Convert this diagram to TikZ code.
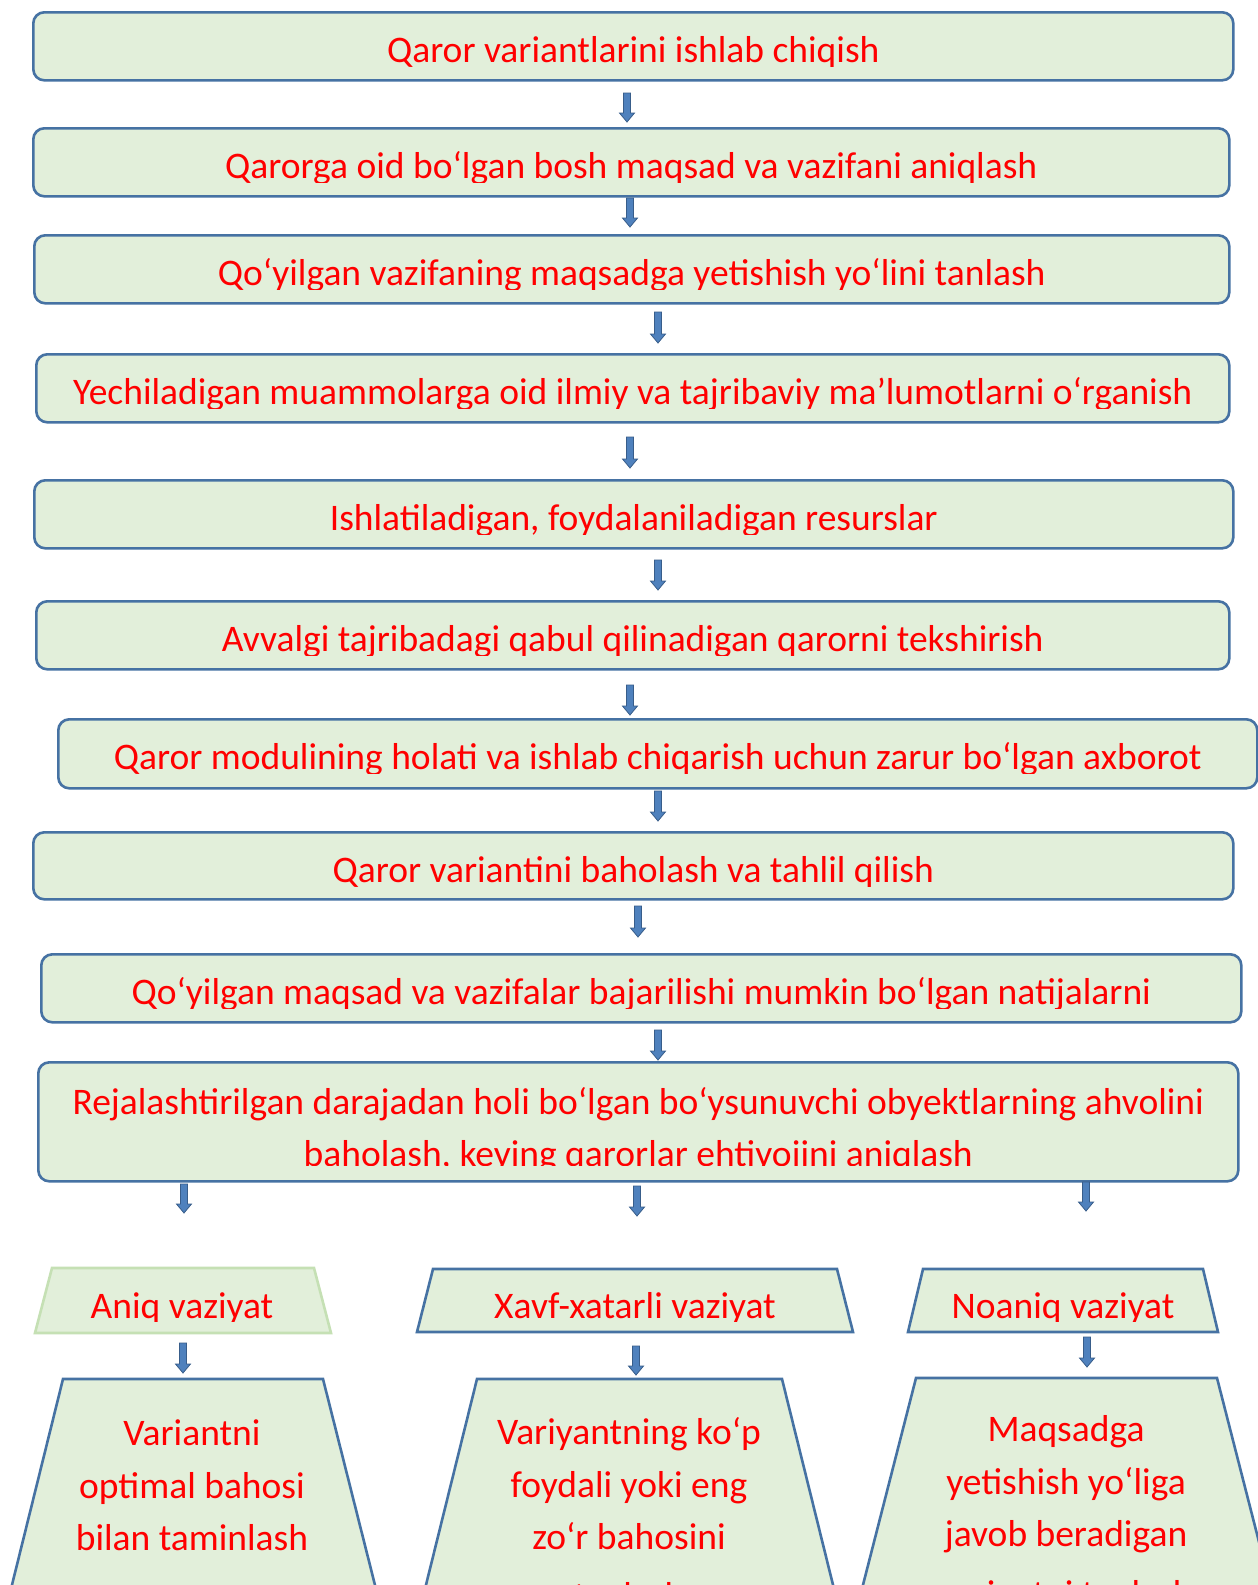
\documentclass[tikz,border=0pt]{standalone}
\usepackage{fontspec}
\setmainfont{Carlito}
\usetikzlibrary{calc}
\definecolor{boxfill}{RGB}{226,239,218}
\definecolor{boxline}{RGB}{70,114,163}
\definecolor{lightline}{RGB}{197,224,180}
\definecolor{txtred}{RGB}{255,0,0}
\definecolor{arrfill}{RGB}{79,129,189}
\definecolor{arrline}{RGB}{56,93,138}
\tikzset{
 boxsty/.style={draw=boxline, fill=boxfill, line width=2.6pt, rounded corners=11pt, inner sep=0pt},
 txt/.style={text=txtred, font=\fontsize{37.5}{45}\selectfont, inner sep=0pt},
 arrsty/.style={fill=arrfill, draw=arrline, line width=0.8pt, line join=miter},
 trapsty/.style={draw=boxline, fill=boxfill, line width=2.6pt, line join=miter},
}
% name, x1, y1, x2, y2, text
\newcommand\flowbox[6]{%
  \node[boxsty, minimum width=#4-#2, minimum height=#5-#3, anchor=north west] (#1) at (#2,#3) {};
  \begin{scope}
    \clip (#2,#3) rectangle (#4,#3+55.5);
    \node[txt, anchor=base] (#1t) at ($(#1.north)+(0,51)$) {#6};
  \end{scope}}
% name, x, ytop, ybottom
\newcommand\blockarrow[4]{%
  \coordinate (#1s) at (#2,#3);
  \coordinate (#1e) at (#2,#4);
  \filldraw[arrsty] ($(#1s)+(-3.5,0)$) -- ($(#1s)+(3.5,0)$) -- ($(#1e)+(3.5,-9)$) -- ($(#1e)+(7.5,-9)$) -- (#1e) -- ($(#1e)+(-7.5,-9)$) -- ($(#1e)+(-3.5,-9)$) -- cycle;}
\begin{document}
\begin{tikzpicture}[x=1pt,y=-1pt]
\useasboundingbox (0,0) rectangle (1258,1585);
\clip (0,0) rectangle (1258,1585);
\fill[white] (0,0) rectangle (1258,1585);

\flowbox{b1}{32}{11}{1232}{79}{Qaror variantlarini ishlab chiqish}
\flowbox{b2}{32}{127}{1228}{195}{Qarorga oid bo‘lgan bosh maqsad va vazifani aniqlash}
\flowbox{b3}{33}{234}{1228}{302}{Qo‘yilgan vazifaning maqsadga yetishish yo‘lini tanlash}
\flowbox{b4}{35}{353}{1228}{421}{Yechiladigan muammolarga oid ilmiy va tajribaviy ma’lumotlarni o‘rganish}
\flowbox{b5}{33}{479}{1232}{547}{Ishlatiladigan, foydalaniladigan resurslar}
\flowbox{b6}{35}{600}{1228}{668}{Avvalgi tajribadagi qabul qilinadigan qarorni tekshirish}
\flowbox{b7}{57}{718}{1256}{787}{Qaror modulining holati va ishlab chiqarish uchun zarur bo‘lgan axborot}
\flowbox{b8}{32}{831}{1232}{898}{Qaror variantini baholash va tahlil qilish}
\flowbox{b9}{40}{953}{1240}{1021}{Qo‘yilgan maqsad va vazifalar bajarilishi mumkin bo‘lgan natijalarni}

% two-line box
\node[boxsty, minimum width=1200, minimum height=119, anchor=north west] (b10) at (37,1061) {};
\begin{scope}
  \clip (37,1061) rectangle (1237,1165);
  \node[txt, anchor=base] (b10t1) at ($(b10.north)+(0,53)$) {Rejalashtirilgan darajadan holi bo‘lgan bo‘ysunuvchi obyektlarning ahvolini};
  \node[txt, anchor=base] (b10t2) at ($(b10.north)+(0,105.5)$) {baholash, keying qarorlar ehtiyojini aniqlash};
\end{scope}

% small trapezoids
\path[trapsty, draw=lightline] (52,1268) -- (314,1268) -- (331,1333) -- (35,1333) -- cycle;
\path[trapsty] (433,1269) -- (837,1269) -- (853,1332) -- (417,1332) -- cycle;
\path[trapsty] (923,1269) -- (1203,1269) -- (1218,1332) -- (908,1332) -- cycle;
\begin{scope}
  \clip (0,1250) rectangle (1258,1321);
  \node[txt, anchor=base] (s1) at (182,1318) {Aniq vaziyat};
  \node[txt, anchor=base] (s2) at (635,1318) {Xavf-xatarli vaziyat};
  \node[txt, anchor=base] (s3) at (1063,1318) {Noaniq vaziyat};
\end{scope}

% big trapezoids
\path[trapsty] (63,1379) -- (323,1379) -- (383.8,1620) -- (3.3,1620) -- cycle;
\path[trapsty] (477,1379) -- (782,1379) -- (841.7,1620) -- (417.3,1620) -- cycle;
\path[trapsty] (916,1378) -- (1217,1378) -- (1279,1620) -- (854,1620) -- cycle;

\node[txt, anchor=base] (l1a) at (192,1445.5) {Variantni};
\node[txt, anchor=base] (l1b) at (192,1498.5) {optimal bahosi};
\node[txt, anchor=base] (l1c) at (192,1550.5) {bilan taminlash};

\node[txt, anchor=base] (l2a) at (629,1444.5) {Variyantning ko‘p};
\node[txt, anchor=base] (l2b) at (629,1497.5) {foydali yoki eng};
\node[txt, anchor=base] (l2c) at (629,1549.5) {zo‘r bahosini};
\node[txt, anchor=base] (l2d) at (629,1608) {tanlash};

\node[txt, anchor=base] (l3a) at (1066,1441.5) {Maqsadga};
\node[txt, anchor=base] (l3b) at (1066,1494.5) {yetishish yo‘liga};
\node[txt, anchor=base] (l3c) at (1066,1546.5) {javob beradigan};
\node[txt, anchor=base] (l3d) at (1066,1606) {variantni tanlash};

% arrows
\blockarrow{a1}{627}{93}{122}
\blockarrow{a2}{630}{198}{227}
\blockarrow{a3}{658}{312}{343}
\blockarrow{a4}{630}{437}{468}
\blockarrow{a5}{658}{560}{590}
\blockarrow{a6}{630}{685}{715}
\blockarrow{a7}{658}{791}{821}
\blockarrow{a8}{638}{906}{937}
\blockarrow{a9}{658}{1030}{1060}
\blockarrow{a10}{184}{1184}{1213}
\blockarrow{a11}{637}{1186}{1216}
\blockarrow{a12}{1086}{1182}{1211}
\blockarrow{a13}{183}{1343}{1373}
\blockarrow{a14}{636}{1346}{1375}
\blockarrow{a15}{1087}{1337}{1367}
\end{tikzpicture}
\end{document}
